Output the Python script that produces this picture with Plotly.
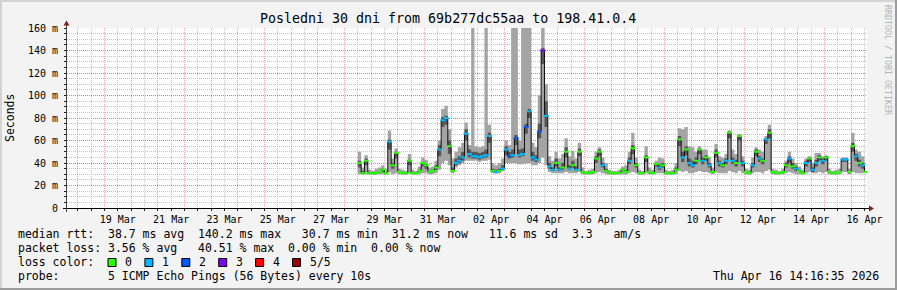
import plotly.graph_objects as go
import pandas as pd

# ---------------- data ----------------
title_text = "Posledni 30 dni from 69b277dc55aa to 198.41.0.4"
view_start = "2026-03-17 14:16:35"
view_end = "2026-04-16 14:16:35"
sample_start = "2026-03-28 12:00"
sample_step = "3h"

# median rtt (ms), one value per 3 hours
median_ms = [
    40, 31, 42, 31,
    31, 31, 32, 34, 31, 59, 38, 49,
    32, 31, 31, 42, 31, 31, 33, 40,
    38, 32, 33, 36, 52, 78, 80, 55,
    33, 40, 42, 45, 66, 48, 46, 46,
    45, 46, 47, 64, 33, 32, 33, 35,
    52, 46, 47, 62, 47, 48, 72, 86,
    45, 43, 68, 140, 82, 37, 34, 40,
    34, 36, 50, 35, 38, 34, 50, 32,
    31, 31, 32, 44, 50, 38, 33, 31,
    31, 31, 31, 34, 32, 42, 53, 38,
    31, 31, 45, 32, 31, 39, 36, 38,
    31, 31, 31, 34, 61, 45, 52, 40,
    38, 42, 52, 42, 45, 38, 32, 49,
    40, 38, 42, 67, 42, 40, 64, 40,
    32, 31, 38, 50, 44, 42, 61, 67,
    32, 31, 31, 32, 38, 44, 37, 35,
    33, 31, 40, 44, 34, 40, 45, 42,
    45, 32, 31, 31, 32, 43, 43, 32,
    55, 46, 40, 38, 32,
]
# 2nd ping (lower edge of dark smoke)
smoke_dark_lo = [
    36, 30, 38, 30,
    30, 30, 31, 32, 30, 52, 35, 44,
    31, 30, 30, 38, 30, 30, 32, 37,
    35, 31, 32, 34, 46, 72, 74, 48,
    32, 38, 40, 42, 60, 45, 44, 44,
    43, 44, 45, 58, 32, 31, 32, 34,
    47, 44, 45, 56, 45, 46, 66, 80,
    42, 41, 62, 128, 72, 35, 33, 37,
    33, 34, 45, 34, 36, 33, 46, 31,
    30, 30, 31, 40, 46, 36, 32, 30,
    30, 30, 30, 33, 31, 39, 48, 36,
    30, 30, 41, 31, 30, 37, 34, 36,
    30, 30, 30, 33, 55, 41, 47, 37,
    36, 39, 48, 39, 42, 36, 31, 45,
    37, 36, 39, 62, 39, 37, 60, 37,
    31, 30, 36, 46, 41, 39, 57, 62,
    31, 30, 30, 31, 36, 40, 35, 33,
    32, 30, 37, 41, 32, 37, 42, 39,
    42, 31, 30, 30, 31, 41, 41, 31,
    50, 42, 37, 35, 31,
]
# 4th ping (upper edge of dark smoke)
smoke_dark_hi = [
    42, 33, 44, 32,
    32, 32, 33, 35, 32, 61, 40, 50,
    33, 32, 32, 43, 32, 32, 34, 41,
    39, 33, 34, 38, 56, 81, 82, 60,
    36, 44, 46, 50, 70, 52, 50, 50,
    49, 50, 52, 67, 35, 34, 35, 38,
    55, 50, 52, 65, 52, 53, 75, 88,
    50, 47, 75, 142, 95, 40, 36, 44,
    36, 40, 54, 38, 42, 37, 53, 33,
    32, 32, 33, 46, 52, 40, 35, 32,
    32, 32, 32, 35, 34, 45, 56, 40,
    32, 32, 47, 33, 32, 40, 39, 40,
    32, 32, 32, 36, 64, 50, 55, 44,
    42, 45, 53, 45, 47, 40, 33, 52,
    42, 40, 44, 68, 45, 43, 65, 42,
    33, 32, 40, 52, 46, 44, 62, 70,
    33, 32, 32, 33, 40, 46, 40, 37,
    34, 32, 42, 45, 36, 43, 47, 44,
    46, 33, 32, 32, 33, 44, 44, 33,
    58, 48, 43, 40, 33,
]
# max ping (upper edge of light smoke)
smoke_max = [
    50, 36, 47, 34,
    33, 35, 36, 38, 35, 69, 44, 53,
    35, 34, 33, 48, 34, 33, 37, 45,
    43, 36, 37, 42, 60, 88, 91, 70,
    44, 50, 54, 58, 76, 56, 200, 55,
    54, 55, 200, 74, 40, 38, 40, 44,
    60, 56, 200, 200, 60, 200, 200, 200,
    58, 54, 100, 200, 110, 46, 42, 50,
    44, 48, 62, 46, 51, 44, 58, 36,
    33, 34, 35, 50, 54, 45, 40, 34,
    33, 33, 34, 37, 38, 50, 67, 45,
    34, 33, 55, 36, 34, 42, 45, 44,
    34, 33, 34, 40, 71, 70, 72, 55,
    54, 50, 55, 52, 52, 45, 36, 57,
    46, 45, 48, 69, 52, 48, 66, 46,
    35, 34, 45, 54, 52, 50, 64, 74,
    35, 34, 33, 35, 42, 50, 44, 40,
    37, 34, 44, 46, 40, 49, 49, 46,
    47, 35, 33, 34, 35, 45, 45, 35,
    67, 52, 50, 46, 36,
]
# min ping (lower edge of smoke)
smoke_min = [
    30, 30, 30, 30,
    30, 30, 30, 30, 30, 32, 30, 31,
    30, 30, 30, 31, 30, 30, 30, 31,
    31, 30, 30, 31, 34, 40, 42, 38,
    31, 36, 38, 40, 42, 42, 42, 42,
    41, 42, 42, 43, 31, 31, 31, 33,
    40, 40, 40, 40, 39, 39, 40, 40,
    38, 38, 40, 45, 38, 32, 31, 31,
    31, 31, 32, 31, 31, 31, 32, 30,
    30, 30, 30, 31, 32, 31, 30, 30,
    30, 30, 30, 30, 30, 31, 32, 31,
    30, 30, 31, 30, 30, 31, 31, 31,
    30, 30, 30, 30, 33, 32, 33, 31,
    31, 32, 33, 32, 32, 31, 30, 32,
    31, 31, 31, 33, 32, 31, 33, 31,
    30, 30, 31, 32, 32, 31, 33, 34,
    30, 30, 30, 30, 31, 32, 31, 30,
    30, 30, 31, 32, 31, 31, 32, 31,
    32, 30, 30, 30, 30, 32, 32, 30,
    32, 31, 31, 31, 30,
]
# lost pings out of 5
loss_count = [
    0, 0, 0, 0,
    0, 0, 0, 0, 0, 1, 0, 0,
    0, 0, 0, 0, 0, 0, 0, 0,
    0, 0, 0, 0, 1, 1, 1, 0,
    0, 1, 1, 1, 1, 1, 1, 1,
    1, 1, 1, 1, 0, 1, 0, 1,
    1, 2, 1, 2, 1, 1, 2, 1,
    1, 1, 2, 3, 1, 1, 1, 0,
    1, 0, 0, 1, 0, 1, 0, 0,
    0, 0, 0, 0, 0, 1, 0, 0,
    0, 0, 0, 0, 0, 1, 0, 0,
    0, 0, 0, 0, 0, 0, 1, 0,
    0, 0, 0, 0, 0, 1, 0, 1,
    1, 0, 0, 1, 0, 1, 0, 0,
    1, 0, 1, 0, 1, 0, 0, 1,
    0, 0, 1, 0, 1, 0, 1, 0,
    0, 0, 0, 0, 0, 1, 0, 1,
    0, 0, 1, 0, 1, 1, 0, 1,
    0, 0, 0, 0, 0, 1, 1, 0,
    0, 1, 0, 1, 0,
]

loss_labels = ["0", "1", "2", "3", "4", "5/5"]
loss_colors = ["#26ff00", "#00b8ff", "#0059ff", "#7e00ff", "#ff0000", "#a10000"]

x_tick_labels = ["19 Mar", "21 Mar", "23 Mar", "25 Mar", "27 Mar", "29 Mar", "31 Mar",
                 "02 Apr", "04 Apr", "06 Apr", "08 Apr", "10 Apr", "12 Apr", "14 Apr", "16 Apr"]
y_tick_values = [0, 20, 40, 60, 80, 100, 120, 140, 160]
y_tick_labels = ["0", "20 m", "40 m", "60 m", "80 m", "100 m", "120 m", "140 m", "160 m"]

stat_lines = [
    "median rtt:  38.7 ms avg  140.2 ms max   30.7 ms min  31.2 ms now   11.6 ms sd  3.3   am/s",
    "packet loss: 3.56 % avg   40.51 % max  0.00 % min  0.00 % now",
    "loss color:",
    "probe:       5 ICMP Echo Pings (56 Bytes) every 10s",
]
timestamp_text = "Thu Apr 16 14:16:35 2026"
watermark_text = "RRDTOOL / TOBI OETIKER"

# ---------------- geometry ----------------
FIG_W, FIG_H = 897, 290
L, T, PW, PH = 67, 28, 800, 180
MONO = "DejaVu Sans Mono"


def px(x):
    return (x - L) / PW


def py(y):
    return (T + PH - y) / PH


times = pd.date_range(sample_start, periods=len(median_ms), freq=sample_step)
mid_times = times + pd.Timedelta(sample_step) / 2
tick_pos = pd.to_datetime([s + " 2026" for s in x_tick_labels], format="%d %b %Y") + pd.Timedelta(hours=12)
marker_cols = [loss_colors[k] for k in loss_count]

fig = go.Figure()
common = dict(showlegend=False, hoverinfo="skip")
fig.add_trace(go.Scatter(x=times, y=smoke_min, mode="lines",
                         line=dict(width=0, shape="hv"), **common))
fig.add_trace(go.Scatter(x=times, y=smoke_max, mode="lines", fill="tonexty",
                         fillcolor="#a4a4a4", line=dict(width=0, shape="hv"), **common))
fig.add_trace(go.Scatter(x=times, y=smoke_dark_lo, mode="lines",
                         line=dict(width=0, shape="hv"), **common))
fig.add_trace(go.Scatter(x=times, y=smoke_dark_hi, mode="lines", fill="tonexty",
                         fillcolor="#585858", line=dict(width=0, shape="hv"), **common))
fig.add_trace(go.Scatter(x=times, y=median_ms, mode="lines",
                         line=dict(width=1, color="#101010", shape="hv"), **common))
fig.add_trace(go.Scatter(x=mid_times, y=median_ms, mode="markers", xaxis="x2",
                         marker=dict(symbol="line-ew", size=3.7, color=marker_cols,
                                     line=dict(color=marker_cols, width=2)), **common))

major_grid = "rgba(235,60,60,0.5)"
minor_grid = "#c4c4c4"
axis_col = "#202020"

fig.update_layout(
    width=FIG_W, height=FIG_H,
    margin=dict(l=L, r=FIG_W - L - PW, t=T, b=FIG_H - T - PH, autoexpand=False),
    paper_bgcolor="#f3f3f3", plot_bgcolor="#ffffff",
    font=dict(family=MONO, size=10, color="#000000"),
    xaxis=dict(type="date", range=[view_start, view_end], showticklabels=False,
               showgrid=True, gridcolor=major_grid, griddash="1px,1px", gridwidth=1,
               dtick=86400000, tick0="2026-03-18 00:00",
               ticks="outside", ticklen=2, tickcolor=axis_col,
               minor=dict(dtick=43200000, tick0="2026-03-18 00:00", showgrid=True,
                          gridcolor=minor_grid, griddash="1px,1px", ticks="outside",
                          ticklen=2, tickcolor=axis_col),
               zeroline=False, showline=False, fixedrange=True),
    xaxis2=dict(type="date", overlaying="x", anchor="y", side="bottom",
                range=[view_start, view_end], tickmode="array",
                tickvals=list(tick_pos), ticktext=x_tick_labels,
                showgrid=False, ticks="", ticklabelstandoff=4,
                tickfont=dict(family=MONO, size=10), zeroline=False, showline=False),
    yaxis=dict(range=[0, 160], tickmode="array", tickvals=y_tick_values, ticktext=y_tick_labels,
               showgrid=True, gridcolor=major_grid, griddash="1px,1px",
               ticks="outside", ticklen=2, tickcolor=axis_col, ticklabelstandoff=4,
               minor=dict(dtick=5, showgrid=True, gridcolor=minor_grid, griddash="1px,1px",
                          ticks="outside", ticklen=2, tickcolor=axis_col),
               tickfont=dict(family=MONO, size=10),
               zeroline=False, showline=False),
)

shapes = []
# axes lines
shapes.append(dict(type="line", xref="paper", yref="paper", x0=px(63), x1=px(869),
                   y0=py(208.5), y1=py(208.5), line=dict(color="#000000", width=1)))
shapes.append(dict(type="line", xref="paper", yref="paper", x0=px(66.5), x1=px(66.5),
                   y0=py(212), y1=py(24), line=dict(color="#404040", width=1)))
# arrows
arrow_col = "#8a1c1c"
shapes.append(dict(type="path", xref="paper", yref="paper", fillcolor=arrow_col,
                   line=dict(width=0),
                   path=f"M {px(869)},{py(205.5)} L {px(874)},{py(208.5)} L {px(869)},{py(211.5)} Z"))
shapes.append(dict(type="path", xref="paper", yref="paper", fillcolor=arrow_col,
                   line=dict(width=0),
                   path=f"M {px(63.5)},{py(25.5)} L {px(66.5)},{py(20.5)} L {px(69.5)},{py(25.5)} Z"))
# frame (3D border)
shapes.append(dict(type="rect", xref="paper", yref="paper", x0=px(0), x1=px(2), y0=py(290), y1=py(0),
                   fillcolor="#d4d4d4", line=dict(width=0)))
shapes.append(dict(type="rect", xref="paper", yref="paper", x0=px(0), x1=px(897), y0=py(2), y1=py(0),
                   fillcolor="#d4d4d4", line=dict(width=0)))
shapes.append(dict(type="rect", xref="paper", yref="paper", x0=px(895), x1=px(897), y0=py(290), y1=py(0),
                   fillcolor="#9c9c9c", line=dict(width=0)))
shapes.append(dict(type="rect", xref="paper", yref="paper", x0=px(0), x1=px(897), y0=py(290), y1=py(288),
                   fillcolor="#9c9c9c", line=dict(width=0)))

annotations = []


def text(s, x, y, size=11.5, anchor="left", color="#000000", angle=0, yanchor="middle"):
    annotations.append(dict(text=s.replace(" ", "\u00a0"), x=px(x), y=py(y), xref="paper", yref="paper",
                            xanchor=anchor, yanchor=yanchor, showarrow=False, textangle=angle,
                            borderpad=0, font=dict(family=MONO, size=size, color=color)))


text(title_text, 448, 19, size=13.3, anchor="center")
text("Seconds", 10, 118, size=11.5, anchor="center", angle=-90)
text(watermark_text, 888, 60, size=8.3, anchor="center", color="#b4b4b4", angle=90)

line_y = [234.3, 248.3, 262.3, 276.3]
for s, yy in zip(stat_lines, line_y):
    text(s, 16.5, yy)
text(timestamp_text, 880, line_y[3], anchor="right")

# loss colour swatches
for k, (lab, col) in enumerate(zip(loss_labels, loss_colors)):
    x0 = 108 + k * 36.9
    shapes.append(dict(type="rect", xref="paper", yref="paper", x0=px(x0), x1=px(x0 + 8),
                       y0=py(266.5), y1=py(258.5), fillcolor=col,
                       line=dict(color="#000000", width=1)))
    text(lab, x0 + 16, line_y[2])

fig.update_layout(shapes=shapes, annotations=annotations)
fig.write_html("out.html")
